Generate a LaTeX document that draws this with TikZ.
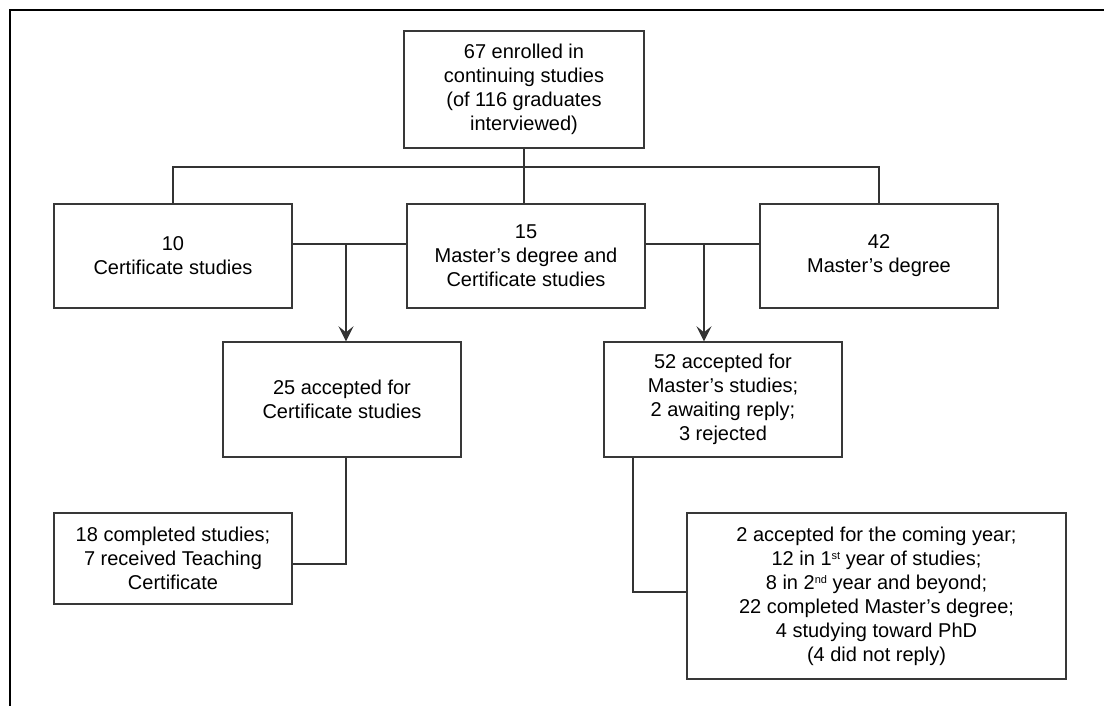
\documentclass[tikz,border=0pt]{standalone}
\usepackage{fontspec}
\setmainfont{Liberation Sans}
\usetikzlibrary{arrows.meta}
\begin{document}
\begin{tikzpicture}[x=1pt,y=-1pt,
  box/.style={draw=black!78,line width=1.4pt,align=center,inner sep=0pt,
    font=\fontsize{20}{24}\selectfont},
  link/.style={draw=black!80,line width=1.4pt},
  arr/.style={link,-{Stealth[length=15pt,width=15pt,inset=6pt]}},
  frame/.style={draw=black,line width=2.6pt}]
\useasboundingbox (0,0) rectangle (1104,706);
% frame
\draw[frame] (10,706) -- (10,10) -- (1104,10);
% nodes
\node[box,minimum width=240pt,minimum height=117pt] (top) at (524,89.5)
  {67 enrolled in\\continuing studies\\(of 116 graduates\\interviewed)};
\node[box,minimum width=238pt,minimum height=104pt] (c10) at (173,256)
  {10\\Certificate studies};
\node[box,minimum width=238pt,minimum height=104pt] (c15) at (526,256)
  {15\\Master’s degree and\\Certificate studies};
\node[box,minimum width=238pt,minimum height=104pt] (c42) at (879,256)
  {42\\Master’s degree};
\node[box,minimum width=238pt,minimum height=115pt] (c25) at (342,399.5)
  {25 accepted for\\Certificate studies};
\node[box,minimum width=238pt,minimum height=115pt] (c52) at (723,399.5)
  {52 accepted for\\Master’s studies;\\2 awaiting reply;\\3 rejected};
\node[box,minimum width=238pt,minimum height=91pt] (c18) at (173,558.5)
  {18 completed studies;\\7 received Teaching\\Certificate};
\node[box,minimum width=379pt,minimum height=166pt] (cfin) at (876.5,596)
  {2 accepted for the coming year;\\12 in 1{\fontsize{11}{11}\selectfont\raisebox{6pt}{st}} year of studies;\\8 in 2{\fontsize{11}{11}\selectfont\raisebox{6pt}{nd}} year and beyond;\\22 completed Master’s degree;\\4 studying toward PhD\\(4 did not reply)};
% coordinates
\coordinate (bus) at (524,167);
\coordinate (j1) at (346,244);
\coordinate (j2) at (704,244);
\coordinate (k1) at (346,564);
\coordinate (k2) at (633,592);
% connectors
\draw[link] (top.south) -- (top.south |- c15.north);
\draw[link] (c10.north) |- (bus) -| (c42.north);
\draw[link] (c10.east |- j1) -- (c15.west |- j1);
\draw[link] (c15.east |- j2) -- (c42.west |- j2);
\draw[arr] (j1) -- (j1 |- c25.north);
\draw[arr] (j2) -- (j2 |- c52.north);
\draw[link] (k1 |- c25.south) -- (k1) -- (c18.east |- k1);
\draw[link] (k2 |- c52.south) -- (k2) -- (cfin.west |- k2);
\end{tikzpicture}
\end{document}
